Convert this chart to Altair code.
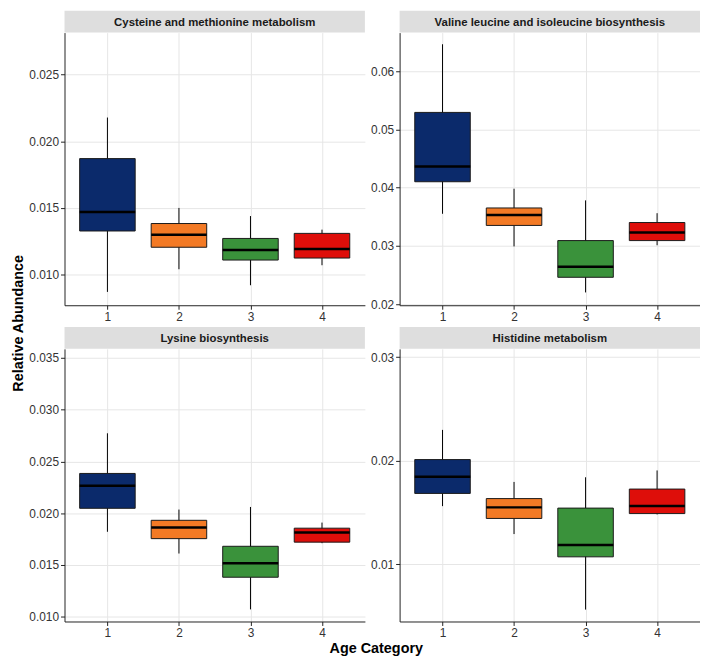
import altair as alt
import pandas as pd

# ---- data ----
panels = [
    "Cysteine and methionine metabolism",
    "Valine leucine and isoleucine biosynthesis",
    "Lysine biosynthesis",
    "Histidine metabolism",
]
categories = ["1", "2", "3", "4"]
colors = ["#0B2A6B", "#F37A25", "#3A923B", "#DE0E0A"]

# per panel: lists over categories 1..4
whisker_low = [
    [0.0087, 0.0104, 0.0092, 0.0107],
    [0.0355, 0.0299, 0.0220, 0.0301],
    [0.0182, 0.0161, 0.0107, 0.0171],
    [0.0156, 0.0129, 0.0056, 0.0148],
]
q1 = [
    [0.01327, 0.01205, 0.01109, 0.01124],
    [0.0410, 0.0335, 0.0246, 0.0309],
    [0.02047, 0.01754, 0.01381, 0.0172],
    [0.01683, 0.01441, 0.0107, 0.01488],
]
median = [
    [0.0147, 0.01298, 0.01185, 0.01192],
    [0.0436, 0.0353, 0.0264, 0.0323],
    [0.02266, 0.01862, 0.01516, 0.01814],
    [0.01845, 0.01548, 0.01184, 0.01561],
]
q3 = [
    [0.0187, 0.01383, 0.01271, 0.01309],
    [0.0529, 0.0365, 0.0309, 0.0340],
    [0.02384, 0.01931, 0.0168, 0.01855],
    [0.0201, 0.01633, 0.01541, 0.01725],
]
whisker_high = [
    [0.02178, 0.0150, 0.01439, 0.01337],
    [0.0646, 0.0398, 0.0378, 0.0356],
    [0.02772, 0.02035, 0.0206, 0.01909],
    [0.02297, 0.01794, 0.01839, 0.01905],
]
y_domains = [
    [0.0077, 0.02815],
    [0.0198, 0.0666],
    [0.00953, 0.03588],
    [0.00445, 0.0308],
]
y_ticks = [
    [0.010, 0.015, 0.020, 0.025],
    [0.02, 0.03, 0.04, 0.05, 0.06],
    [0.010, 0.015, 0.020, 0.025, 0.030, 0.035],
    [0.01, 0.02, 0.03],
]
y_formats = [".3f", ".2f", ".3f", ".2f"]

W = 303
H = 275
STRIP = 22
FONT = "Liberation Sans"
GRID = "#E6E6E6"


def panel(i):
    df = pd.DataFrame({
        "cat": categories,
        "lo": whisker_low[i],
        "q1": q1[i],
        "med": median[i],
        "q3": q3[i],
        "hi": whisker_high[i],
    })
    x = alt.X("cat:O", title=None,
              scale=alt.Scale(type="point", padding=0.6),
              axis=alt.Axis(labelAngle=0, grid=True, gridColor=GRID,
                            domainColor="#222222", tickColor="#222222",
                            tickSize=4, labelColor="#333333", labelFontSize=12,
                            labelFont=FONT, labelPadding=2))
    ysc = alt.Scale(domain=y_domains[i], nice=False, zero=False)
    yax = alt.Axis(values=y_ticks[i], format=y_formats[i], grid=True,
                   gridColor=GRID, domainColor="#222222",
                   tickColor="#222222", tickSize=4, labelColor="#333333",
                   labelFontSize=12, labelFont=FONT, labelPadding=2)
    base = alt.Chart(df)
    color = alt.Color("cat:N", scale=alt.Scale(domain=categories, range=colors), legend=None)
    whisk = base.mark_rule(color="black", strokeWidth=1).encode(
        x=x, y=alt.Y("lo:Q", title=None, scale=ysc, axis=yax), y2="hi:Q")
    box = base.mark_bar(size=56, stroke="#1A1A1A", strokeWidth=1, opacity=1).encode(
        x=x, y=alt.Y("q1:Q", scale=ysc, axis=yax, title=None), y2="q3:Q", color=color)
    med = base.mark_tick(color="black", thickness=2.5, size=56, opacity=1).encode(
        x=x, y=alt.Y("med:Q", scale=ysc, axis=yax, title=None))
    body = alt.layer(whisk, box, med).properties(width=W, height=H)

    sdf = pd.DataFrame({"name": [panels[i]]})
    strip_bg = alt.Chart(sdf).mark_rect(color="#DEDEDE").encode(
        x=alt.value(0), x2=alt.value(W), y=alt.value(0), y2=alt.value(STRIP))
    strip_txt = alt.Chart(sdf).mark_text(font=FONT, fontSize=11.5, fontWeight="bold",
                                         color="#1A1A1A").encode(
        x=alt.value(W / 2), y=alt.value(STRIP / 2 + 1), text="name:N")
    strip = alt.layer(strip_bg, strip_txt).properties(width=W, height=STRIP)
    return alt.vconcat(strip, body, spacing=0)


grid = alt.concat(*[panel(i) for i in range(4)], columns=2, spacing=5).properties(
    title=alt.TitleParams("Age Category", orient="bottom", anchor="middle",
                          font=FONT, fontSize=14.5, fontWeight="bold",
                          color="black", offset=4, dx=12))

chart = alt.vconcat(grid).properties(
    title=alt.TitleParams("Relative Abundance", orient="left", anchor="middle",
                          font=FONT, fontSize=14.5, fontWeight="bold",
                          color="black", offset=2, dx=10),
    padding={"left": 3, "top": 0, "right": 0, "bottom": 0},
).configure_view(stroke=None).configure_concat(spacing=4)

chart.save("out.html", embed_options={"renderer": "svg", "actions": False})
